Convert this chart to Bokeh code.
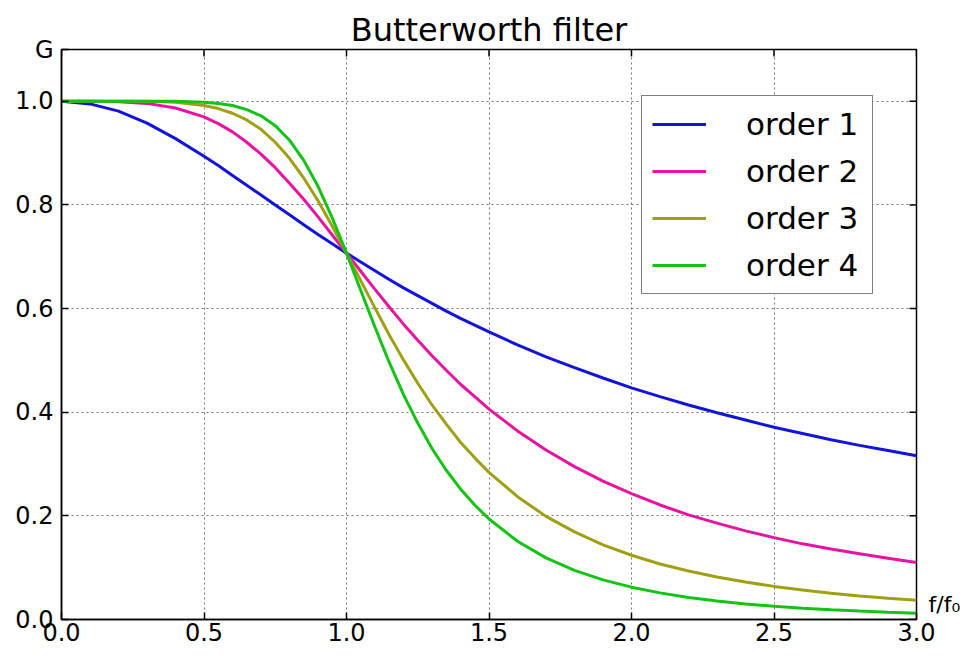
from bokeh.plotting import figure
from bokeh.models import (Range1d, FixedTicker, LinearAxis, Legend, LegendItem,
                          PrintfTickFormatter)
from bokeh.embed import file_html
from bokeh.resources import INLINE

freq = [0.0, 0.1, 0.2, 0.3, 0.4, 0.5, 0.55, 0.6, 0.65, 0.7, 0.75, 0.8, 0.85, 0.9, 0.95,
        1.0, 1.05, 1.1, 1.15, 1.2, 1.25, 1.3, 1.35, 1.4, 1.45, 1.5, 1.6, 1.7, 1.8, 1.9,
        2.0, 2.1, 2.2, 2.3, 2.4, 2.5, 2.6, 2.7, 2.8, 2.9, 3.0]

order1 = [1.000, 0.995, 0.981, 0.958, 0.928, 0.894, 0.876, 0.857, 0.838, 0.819, 0.800,
          0.781, 0.762, 0.743, 0.725, 0.707, 0.690, 0.673, 0.656, 0.640, 0.625, 0.610,
          0.595, 0.581, 0.568, 0.555, 0.530, 0.507, 0.486, 0.466, 0.447, 0.430, 0.414,
          0.399, 0.385, 0.371, 0.359, 0.347, 0.336, 0.326, 0.316]

order2 = [1.000, 1.000, 0.999, 0.996, 0.987, 0.970, 0.957, 0.941, 0.921, 0.898, 0.872,
          0.842, 0.811, 0.777, 0.742, 0.707, 0.672, 0.637, 0.603, 0.570, 0.539, 0.509,
          0.481, 0.454, 0.430, 0.406, 0.364, 0.327, 0.295, 0.267, 0.243, 0.221, 0.202,
          0.186, 0.171, 0.158, 0.146, 0.136, 0.127, 0.118, 0.110]

order3 = [1.000, 1.000, 1.000, 1.000, 0.998, 0.992, 0.986, 0.977, 0.964, 0.946, 0.921,
          0.890, 0.852, 0.808, 0.759, 0.707, 0.654, 0.601, 0.549, 0.501, 0.456, 0.414,
          0.377, 0.342, 0.312, 0.284, 0.237, 0.199, 0.169, 0.144, 0.124, 0.107, 0.0935,
          0.0819, 0.0722, 0.0639, 0.0568, 0.0507, 0.0455, 0.0410, 0.0370]

order4 = [1.000, 1.000, 1.000, 1.000, 1.000, 0.998, 0.996, 0.992, 0.984, 0.972, 0.953,
          0.925, 0.886, 0.836, 0.775, 0.707, 0.635, 0.564, 0.496, 0.434, 0.379, 0.330,
          0.288, 0.252, 0.221, 0.194, 0.151, 0.119, 0.0948, 0.0765, 0.0624, 0.0514, 0.0426,
          0.0357, 0.0301, 0.0256, 0.0219, 0.0188, 0.0163, 0.0141, 0.0123]

series_names = ["order 1", "order 2", "order 3", "order 4"]
series_values = [order1, order2, order3, order4]
series_colors = ["#1414d8", "#e614a0", "#a0a014", "#14c414"]

x_ticks = [0.0, 0.5, 1.0, 1.5, 2.0, 2.5, 3.0]
y_ticks = [0.0, 0.2, 0.4, 0.6, 0.8, 1.0]
x_max = 3.0
y_max = 1.1
y_label_text = "G"
x_label_text = "f/f\u2080"
x_label_pos = 0.028

FONT = "DejaVu Sans"
W, H = 963, 647
BL, BR, BT, BB = 61, 44, 49, 28
TICK = 7

p = figure(width=W, height=H, x_range=Range1d(0, x_max), y_range=Range1d(0, y_max),
           output_backend="svg", toolbar_location=None,
           min_border_left=BL, min_border_right=BR, min_border_top=BT, min_border_bottom=BB)

p.title.text = "Butterworth filter"
p.title.align = "center"
p.title.text_font = FONT
p.title.text_font_size = "32px"
p.title.text_font_style = "normal"
p.title.text_color = "black"
p.title.offset = 0
p.title.standoff = 2

p.outline_line_color = "black"
p.outline_line_width = 1.5
p.background_fill_color = "white"
p.border_fill_color = "white"

for ax in [p.xaxis[0], p.yaxis[0]]:
    ax.major_label_text_font = FONT
    ax.major_label_text_font_size = "24px"
    ax.major_label_text_color = "black"
    ax.major_tick_in = TICK
    ax.major_tick_out = 0
    ax.minor_tick_in = 0
    ax.minor_tick_out = 0
    ax.axis_line_color = "black"
    ax.axis_line_width = 1.5
    ax.major_tick_line_width = 1.5
    ax.formatter = PrintfTickFormatter(format="%.1f")

p.xaxis[0].ticker = FixedTicker(ticks=x_ticks)
p.yaxis[0].ticker = FixedTicker(ticks=y_ticks + [y_max])
p.yaxis[0].major_label_overrides = {y_max: y_label_text}
p.xaxis[0].major_label_standoff = 3
p.yaxis[0].major_label_standoff = 8

xlabel_ax = LinearAxis(ticker=FixedTicker(ticks=[x_label_pos]),
                       major_label_overrides={x_label_pos: x_label_text},
                       major_label_text_font=FONT, major_label_text_font_size="22px",
                       major_label_text_color="black",
                       major_tick_in=0, major_tick_out=0, minor_tick_in=0, minor_tick_out=0,
                       axis_line_color=None, major_tick_line_color=None,
                       major_label_standoff=12)
p.add_layout(xlabel_ax, "right")

# inward tick marks on the top and right frame edges (mirroring the axis ticks)
frame_w = W - BL - BR - 4
frame_h = H - BT - BB
dy = TICK * y_max / frame_h
dx = TICK * x_max / frame_w
p.segment(x0=x_ticks, y0=[y_max] * len(x_ticks), x1=x_ticks, y1=[y_max - dy] * len(x_ticks),
          line_color="black", line_width=1.5)
p.segment(x0=[x_max] * len(y_ticks), y0=y_ticks, x1=[x_max - dx] * len(y_ticks), y1=y_ticks,
          line_color="black", line_width=1.5)

p.xgrid.ticker = FixedTicker(ticks=x_ticks)
p.ygrid.ticker = FixedTicker(ticks=y_ticks)
for g in [p.xgrid[0], p.ygrid[0]]:
    g.grid_line_color = "black"
    g.grid_line_alpha = 0.55
    g.grid_line_dash = "2 3"
    g.grid_line_width = 1

items = []
for name, vals, col in zip(series_names, series_values, series_colors):
    r = p.line(freq, vals, line_color=col, line_width=3)
    items.append(LegendItem(label=name, renderers=[r]))

legend = Legend(items=items, location=(580, 325))
legend.label_text_font = FONT
legend.label_text_font_size = "31px"
legend.label_text_color = "black"
legend.glyph_width = 54
legend.glyph_height = 36
legend.label_height = 36
legend.label_width = 116
legend.label_standoff = 40
legend.spacing = 11
legend.padding = 10
legend.margin = 0
legend.border_line_color = "black"
legend.border_line_width = 1.5
legend.background_fill_color = "white"
legend.background_fill_alpha = 1.0
p.add_layout(legend)

open("out.html", "w").write(file_html(p, INLINE))
